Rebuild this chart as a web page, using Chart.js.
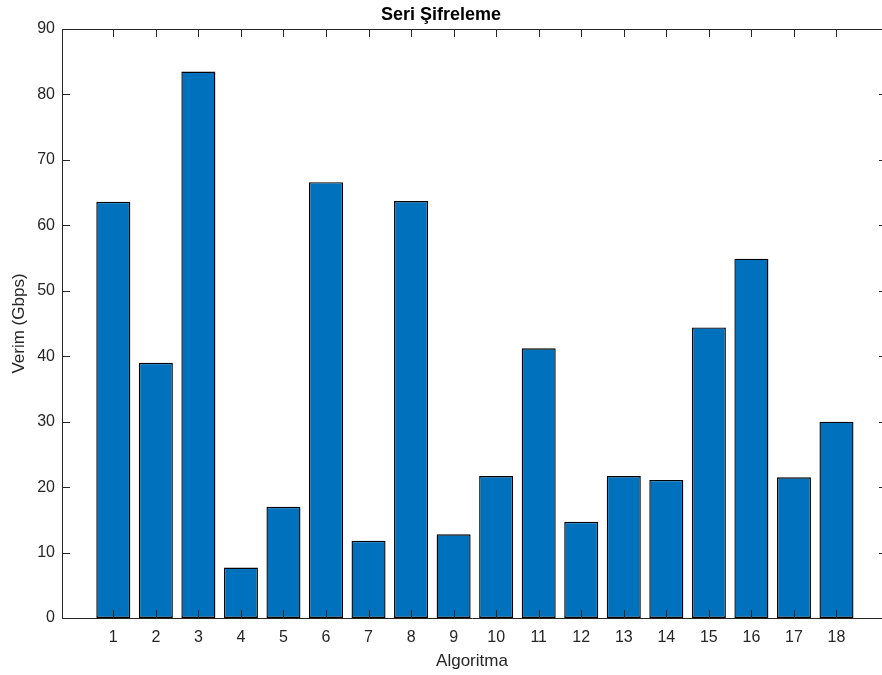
<!DOCTYPE html>
<html>
<head>
<meta charset="utf-8">
<title>Seri Şifreleme</title>
<script src="https://cdn.jsdelivr.net/npm/chart.js@4/dist/chart.umd.min.js"></script>
<style>
  html, body { margin: 0; padding: 0; background: #fff; }
  #wrap { width: 882px; height: 675px; }
</style>
</head>
<body>
<div id="wrap"><canvas id="c" width="882" height="675"></canvas></div>
<script>
// Algorithm numbers and measured throughput (Gbps)
const categories = ['1','2','3','4','5','6','7','8','9','10','11','12','13','14','15','16','17','18'];
const throughput = [63.6, 39.0, 83.5, 7.7, 17.0, 66.6, 11.8, 63.7, 12.8, 21.7, 41.2, 14.7, 21.7, 21.1, 44.4, 54.9, 21.5, 30.0];
const yTicks = [0, 10, 20, 30, 40, 50, 60, 70, 80, 90];

const axisColor = '#262626';
const fontFamily = '"Liberation Sans", Arial, Helvetica, sans-serif';
const TICK_LEN = 8;

// MATLAB-style inward tick marks on all four sides plus the top frame line
const boxTicks = {
  id: 'boxTicks',
  afterDatasetsDraw(chart) {
    const { ctx, chartArea: a, scales } = chart;
    ctx.save();
    ctx.strokeStyle = axisColor;
    ctx.lineWidth = 1;
    ctx.beginPath();
    // top frame line
    ctx.moveTo(a.left, a.top + 0.5);
    ctx.lineTo(a.right, a.top + 0.5);
    // x ticks (bottom and top)
    scales.x.ticks.forEach(t => {
      const px = Math.round(scales.x.getPixelForValue(t.value)) + 0.5;
      ctx.moveTo(px, a.bottom);
      ctx.lineTo(px, a.bottom - TICK_LEN);
      ctx.moveTo(px, a.top);
      ctx.lineTo(px, a.top + TICK_LEN);
    });
    // y ticks (left and right)
    scales.y.ticks.forEach(t => {
      const py = Math.round(scales.y.getPixelForValue(t.value)) + 0.5;
      ctx.moveTo(a.left, py);
      ctx.lineTo(a.left + TICK_LEN, py);
      ctx.moveTo(a.right, py);
      ctx.lineTo(a.right - 3, py);
    });
    ctx.stroke();
    ctx.restore();
  }
};

new Chart(document.getElementById('c'), {
  type: 'bar',
  data: {
    datasets: [{
      data: categories.map((c, i) => ({ x: Number(c), y: throughput[i] })),
      backgroundColor: '#0072BD',
      borderColor: '#000000',
      borderWidth: 1.4,
      borderSkipped: false,
      barPercentage: 0.8,
      categoryPercentage: 1.0
    }]
  },
  options: {
    responsive: false,
    animation: false,
    layout: { padding: { left: 0, right: 0, top: 0, bottom: 0 } },
    plugins: {
      legend: { display: false },
      tooltip: { enabled: false },
      title: {
        display: true,
        text: 'Seri Şifreleme',
        color: '#000000',
        font: { family: fontFamily, size: 18, weight: 'bold', lineHeight: '22px' },
        padding: { top: 4, bottom: 3 }
      }
    },
    scales: {
      x: {
        type: 'linear',
        offset: false,
        min: -0.206,
        max: 19.07,
        grid: { display: false, drawTicks: false, offset: false },
        border: { display: true, color: axisColor, width: 1 },
        afterBuildTicks(scale) {
          scale.ticks = categories.map(c => ({ value: Number(c) }));
        },
        afterFit(scale) { scale.height = 57; },
        ticks: {
          autoSkip: false,
          maxRotation: 0,
          padding: 10,
          color: axisColor,
          font: { family: fontFamily, size: 16 },
          callback: (v) => categories[categories.indexOf(String(v))]
        },
        title: {
          display: true,
          text: 'Algoritma',
          color: axisColor,
          font: { family: fontFamily, size: 17, lineHeight: '20px' },
          padding: { top: 0, bottom: 4 }
        }
      },
      y: {
        min: 0,
        max: 90,
        grid: { display: false, drawTicks: false },
        border: { display: true, color: axisColor, width: 1 },
        afterBuildTicks(scale) {
          scale.ticks = yTicks.map(v => ({ value: v }));
        },
        afterFit(scale) { scale.width = 62; },
        ticks: {
          padding: 7,
          color: axisColor,
          font: { family: fontFamily, size: 16 }
        },
        title: {
          display: true,
          text: 'Verim (Gbps)',
          color: axisColor,
          font: { family: fontFamily, size: 17, lineHeight: '20px' },
          padding: { top: 9, bottom: 0 }
        }
      }
    }
  },
  plugins: [boxTicks]
});
</script>
</body>
</html>
